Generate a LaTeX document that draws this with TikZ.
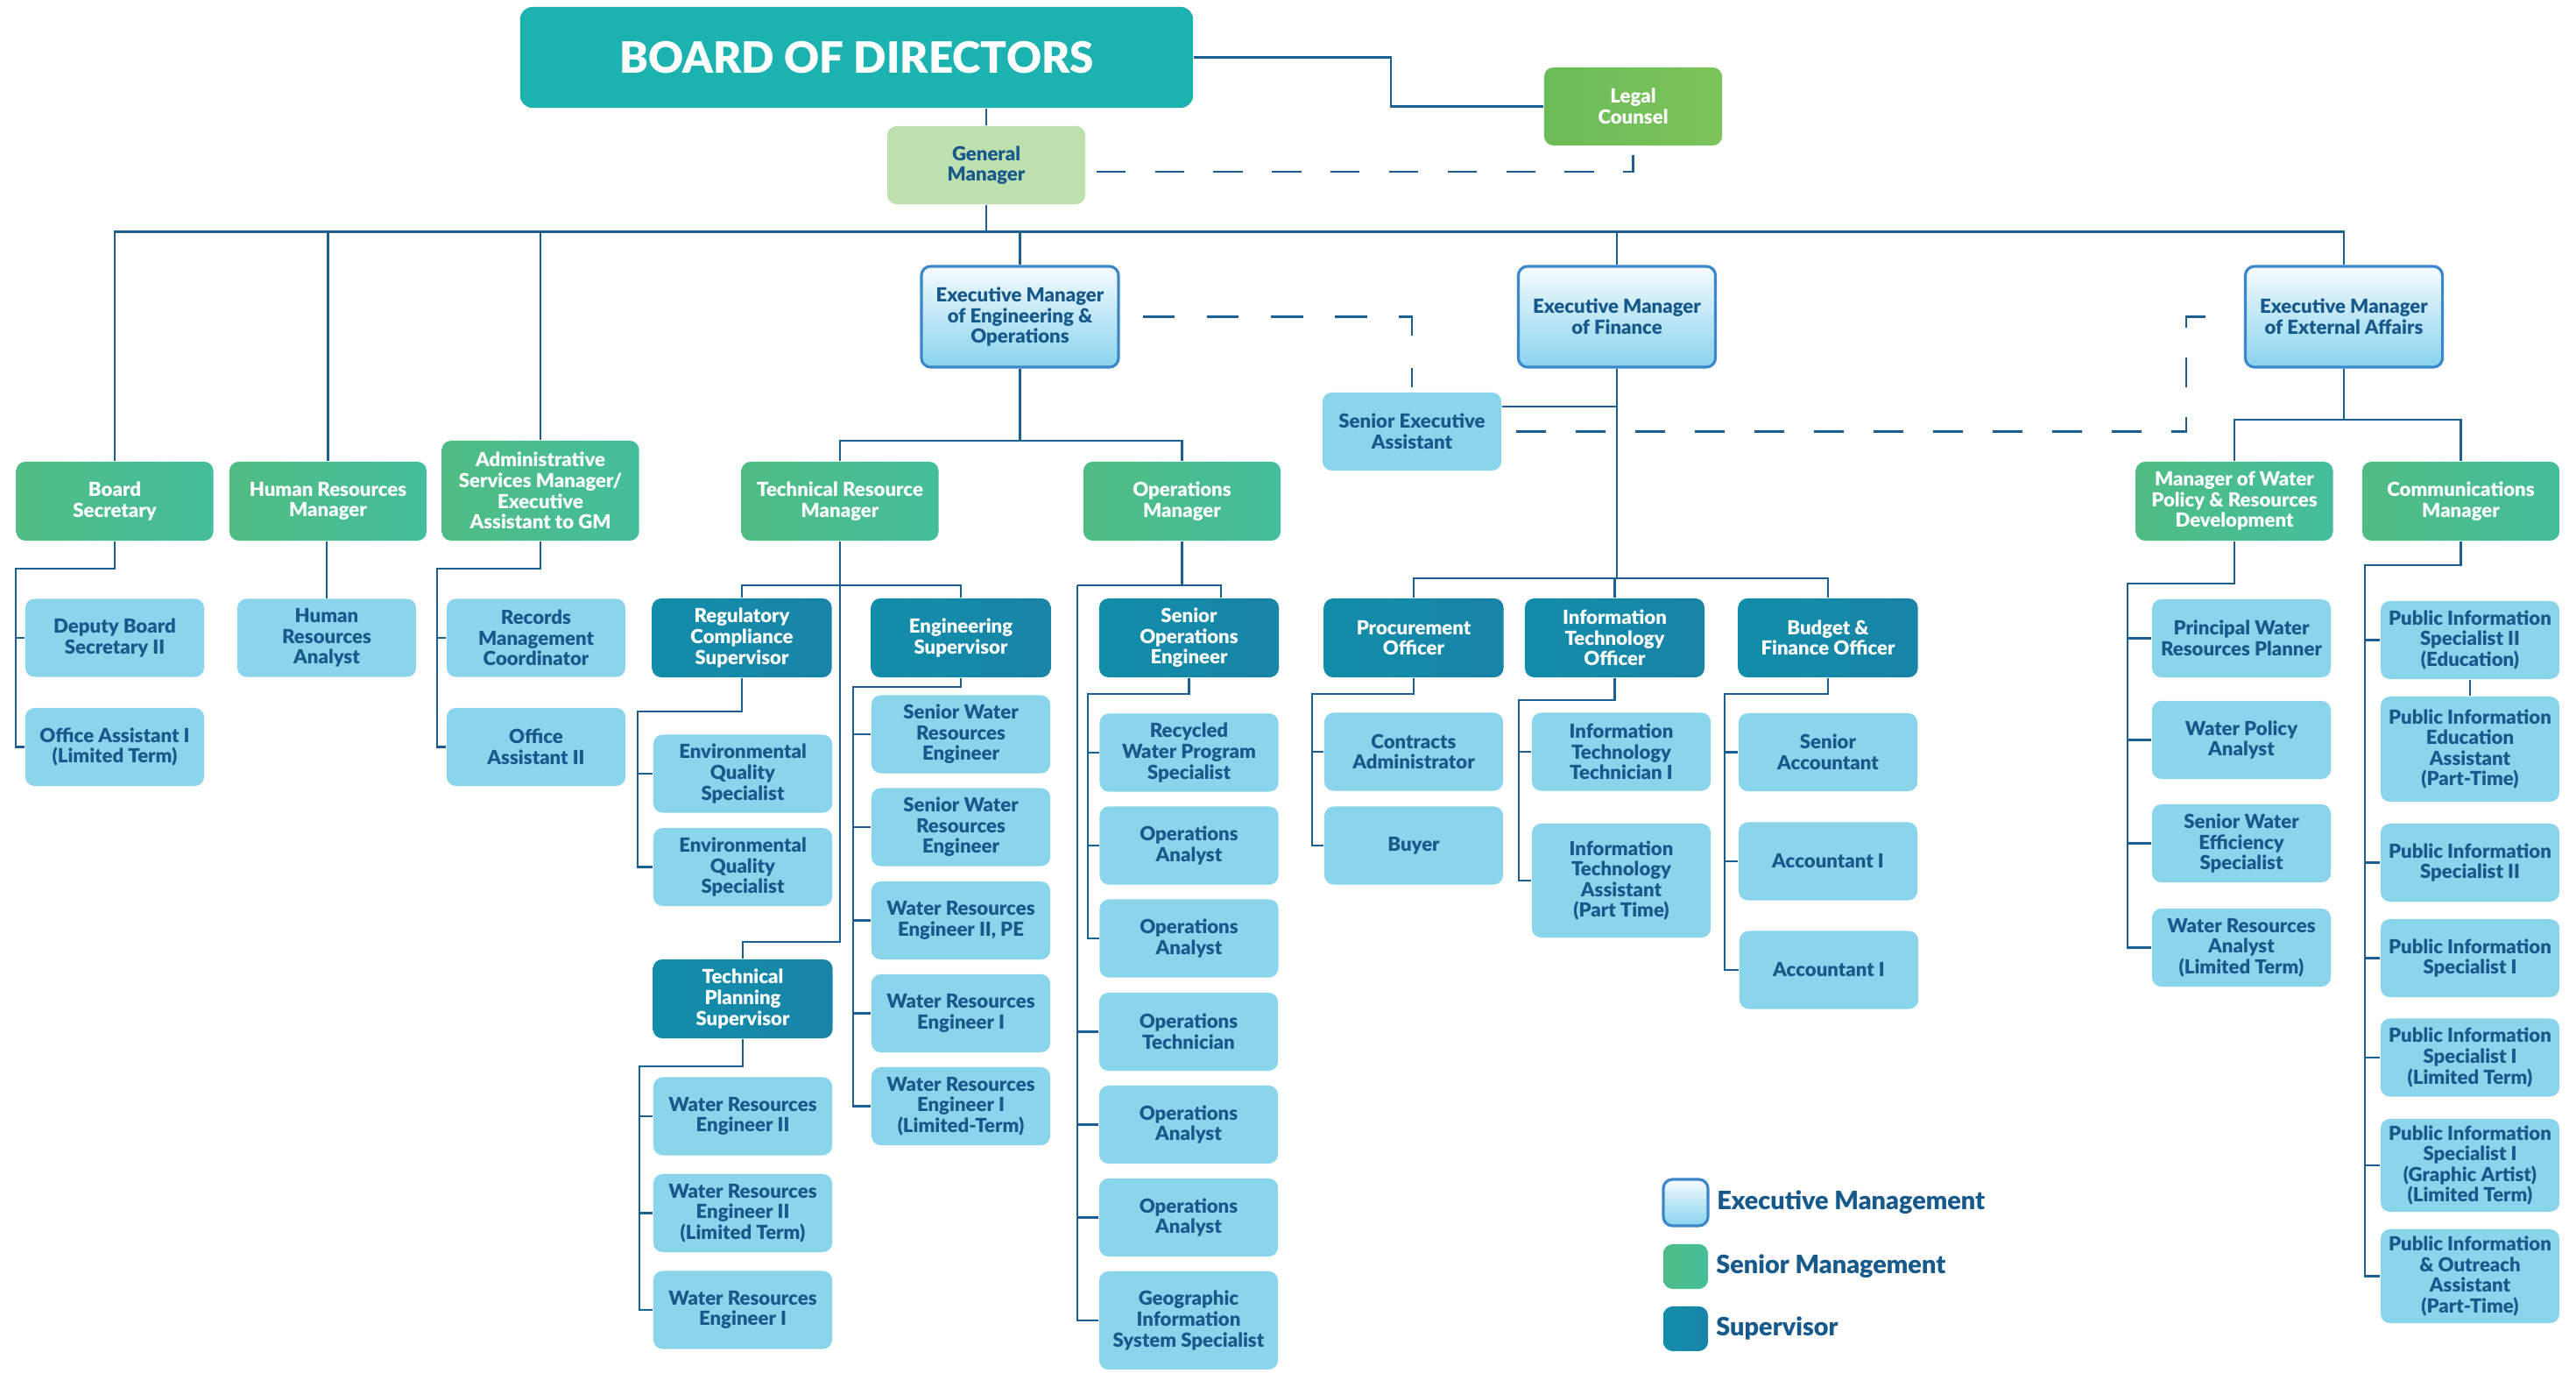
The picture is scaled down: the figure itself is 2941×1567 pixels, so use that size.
\documentclass[tikz,border=0pt]{standalone}
\usepackage{fontspec}
\setmainfont{Lato}[BoldFont={Lato Black}]
\usepackage{xcolor}
\usepackage{tikz}
\usetikzlibrary{positioning}

\definecolor{linkblue}{HTML}{1C5F8F}
\definecolor{txtblue}{HTML}{17598A}
\definecolor{staffblue}{HTML}{8AD5EC}
\definecolor{supL}{HTML}{128DA9}
\definecolor{supR}{HTML}{1984A8}
\definecolor{senL}{HTML}{50BC84}
\definecolor{senR}{HTML}{44BE9B}
\definecolor{legalL}{HTML}{6BBC58}
\definecolor{legalR}{HTML}{7CC35A}
\definecolor{gmgreen}{HTML}{BEDFAE}
\definecolor{boardteal}{HTML}{1BB2B0}
\definecolor{execT}{HTML}{F5FBFD}
\definecolor{execB}{HTML}{88D3EE}
\definecolor{execline}{HTML}{3C87C9}

\tikzset{
    orgbox/.style={rounded corners=3pt, align=center, inner sep=0pt, font=\fontsize{6.3}{6.7}\selectfont\bfseries},
    staff/.style={orgbox, fill=staffblue, text=txtblue, minimum width=2.04cm, minimum height=0.89cm},
    supbox/.style={orgbox, left color=supL, right color=supR, text=white, minimum width=2.05cm, minimum height=0.90cm},
    senior/.style={orgbox, left color=senL, right color=senR, text=white, minimum width=2.25cm, minimum height=0.90cm},
    execbox/.style={orgbox, top color=execT, bottom color=execB, draw=execline, line width=0.9pt, text=txtblue, minimum width=2.25cm, minimum height=1.15cm},
    legendtext/.style={anchor=west, inner sep=0pt, text=txtblue, font=\fontsize{8.2}{10}\selectfont\bfseries},
    link/.style={draw=linkblue, line width=0.8pt},
    dashlink/.style={link, dash pattern=on 9.5pt off 9.5pt},
}

\begin{document}
\begin{tikzpicture}[x=0.01cm, y=-0.01cm]
        \useasboundingbox (0,0) rectangle (2941,1567);

        \node (board) at (978,65.5) [orgbox, fill=boardteal, text=white, rounded corners=4pt, minimum width=7.68cm, minimum height=1.15cm, font=\fontsize{14}{16}\selectfont\bfseries] {BOARD OF DIRECTORS};
        \node (legal) at (1864.5,121.5) [orgbox, left color=legalL, right color=legalR, text=white, minimum width=2.03cm, minimum height=0.89cm] {Legal\\Counsel};
        \node (gm) at (1126,188.5) [orgbox, fill=gmgreen, text=txtblue, minimum width=2.26cm, minimum height=0.89cm] {General\\Manager};

        \node (emeo) at (1164.5,361.5) [execbox] {Executive Manager\\of Engineering \&\\Operations};
        \node (emf) at (1846,361.5) [execbox] {Executive Manager\\of Finance};
        \node (eme) at (2676,361.5) [execbox] {Executive Manager\\of External Affairs};
        \node (sea) at (1612,492.5) [staff] {Senior Executive\\Assistant};

        \node (bs) at (131,572) [senior] {Board\\Secretary};
        \node (hrm) at (374.5,572) [senior] {Human Resources\\Manager};
        \node (asm) at (617,560) [senior, minimum height=1.14cm] {Administrative\\Services Manager/\\Executive\\Assistant to GM};
        \node (trm) at (959,572) [senior] {Technical Resource\\Manager};
        \node (opm) at (1349.5,572) [senior] {Operations\\Manager};
        \node (mwp) at (2551,572) [senior] {Manager of Water\\Policy \& Resources\\Development};
        \node (com) at (2809.5,572) [senior] {Communications\\Manager};

        \node (dbs) at (131,728) [staff] {Deputy Board\\Secretary II};
        \node (oa1) at (131,852.5) [staff] {Office Assistant I\\(Limited Term)};
        \node (hra) at (373,728) [staff] {Human\\Resources\\Analyst};
        \node (rmc) at (612,728) [staff] {Records\\Management\\Coordinator};
        \node (oa2) at (612,852.5) [staff] {Office\\Assistant II};

        \node (rcs) at (847,728) [supbox] {Regulatory\\Compliance\\Supervisor};
        \node (eqs1) at (848,883) [staff] {Environmental\\Quality\\Specialist};
        \node (eqs2) at (848,989.5) [staff] {Environmental\\Quality\\Specialist};
        \node (tps) at (848,1140) [supbox] {Technical\\Planning\\Supervisor};
        \node (wre2) at (848,1274) [staff] {Water Resources\\Engineer II};
        \node (wre2lt) at (848,1384.5) [staff] {Water Resources\\Engineer II\\(Limited Term)};
        \node (wre1) at (848,1495) [staff] {Water Resources\\Engineer I};

        \node (es) at (1097,728) [supbox] {Engineering\\Supervisor};
        \node (swre1) at (1097,838) [staff] {Senior Water\\Resources\\Engineer};
        \node (swre2) at (1097,944) [staff] {Senior Water\\Resources\\Engineer};
        \node (wrepe) at (1097,1050.5) [staff] {Water Resources\\Engineer II, PE};
        \node (wre1b) at (1097,1156.5) [staff] {Water Resources\\Engineer I};
        \node (wre1lt) at (1097,1262.5) [staff] {Water Resources\\Engineer I\\(Limited-Term)};

        \node (soe) at (1357.5,728) [supbox] {Senior\\Operations\\Engineer};
        \node (rwps) at (1357.5,859) [staff] {Recycled\\Water Program\\Specialist};
        \node (oaa) at (1357.5,965) [staff] {Operations\\Analyst};
        \node (oab) at (1357.5,1071) [staff] {Operations\\Analyst};
        \node (ot) at (1357,1177.5) [staff] {Operations\\Technician};
        \node (oac) at (1357,1283.5) [staff] {Operations\\Analyst};
        \node (oad) at (1357,1389.5) [staff] {Operations\\Analyst};
        \node (gis) at (1357,1507) [staff, minimum height=1.12cm] {Geographic\\Information\\System Specialist};

        \node (po) at (1614,728) [supbox] {Procurement\\Officer};
        \node (ca) at (1614,858) [staff] {Contracts\\Administrator};
        \node (buyer) at (1614,965) [staff] {Buyer};
        \node (ito) at (1843.5,728) [supbox] {Information\\Technology\\Officer};
        \node (itt) at (1851,858) [staff] {Information\\Technology\\Technician I};
        \node (ita) at (1851,1005) [staff, minimum height=1.30cm] {Information\\Technology\\Assistant\\(Part Time)};
        \node (bfo) at (2087,728) [supbox] {Budget \&\\Finance Officer};
        \node (sa) at (2087,858.5) [staff] {Senior\\Accountant};
        \node (ai1) at (2087,983) [staff] {Accountant I};
        \node (ai2) at (2088,1107) [staff] {Accountant I};

        \node (pwrp) at (2559,728.5) [staff] {Principal Water\\Resources Planner};
        \node (wpa) at (2559,844.5) [staff] {Water Policy\\Analyst};
        \node (swes) at (2559,962.5) [staff] {Senior Water\\Efficiency\\Specialist};
        \node (wralt) at (2559,1081.5) [staff] {Water Resources\\Analyst\\(Limited Term)};

        \node (pis2e) at (2820,730.5) [staff] {Public Information\\Specialist II\\(Education)};
        \node (piea) at (2820,855) [staff, minimum height=1.20cm] {Public Information\\Education\\Assistant\\(Part-Time)};
        \node (pis2) at (2820,984.5) [staff] {Public Information\\Specialist II};
        \node (pis1) at (2820,1093.5) [staff] {Public Information\\Specialist I};
        \node (pis1lt) at (2820,1207) [staff] {Public Information\\Specialist I\\(Limited Term)};
        \node (pis1ga) at (2820,1330) [staff, minimum height=1.06cm] {Public Information\\Specialist I\\(Graphic Artist)\\(Limited Term)};
        \node (pioa) at (2820,1456.5) [staff, minimum height=1.07cm] {Public Information\\\& Outreach\\Assistant\\(Part-Time)};

        \node (lgexec) at (1924.5,1372.5) [execbox, minimum width=0.51cm, minimum height=0.53cm] {};
        \node (lgsen) at (1924.5,1445.5) [senior, minimum width=0.51cm, minimum height=0.51cm] {};
        \node (lgsup) at (1924.5,1516.5) [supbox, minimum width=0.51cm, minimum height=0.51cm] {};
        \node (lgexect) [right=0.08cm of lgexec, legendtext] {Executive Management};
        \node (lgsent) [right=0.08cm of lgsen, legendtext] {Senior Management};
        \node (lgsupt) [right=0.08cm of lgsup, legendtext] {Supervisor};

        \coordinate (lcbend) at (1588,100);
        \coordinate (bus) at (0,264.5);
        \coordinate (extdash) at (2496,430);
        \coordinate (eobus) at (0,503);
        \coordinate (exbus) at (0,479);
        \coordinate (finbus) at (0,660);
        \coordinate (trmbus) at (0,668);
        \coordinate (tpsbend) at (848,1075);
        \coordinate (opstr) at (1230,668);
        \coordinate (soedrop) at (1394,668);

        \draw[link] (board.east) -| (lcbend) |- (legal.west);
        \draw[link] (gm.north) -- (gm.north |- board.south);
        \draw[link] (gm.south) -- (gm.south |- bus);
        \draw[link] (bs.north) -- (bs.north |- bus) -- (eme.north |- bus) -- (eme.north);
        \foreach \n in {hrm,asm,emeo,emf}
            \draw[link] (\n.north) -- (\n.north |- bus);

        \draw[dashlink] ([xshift=0.12cm, yshift=-0.075cm]gm.east) -| ([yshift=-0.1cm]legal.south);
        \draw[dashlink, dash pattern=on 10.4pt off 10.4pt] ([xshift=0.26cm]emeo.east) -| ([yshift=0.05cm]sea.north);
        \draw[link] ([yshift=0.285cm]sea.east) -| (emf.south);
        \draw[dashlink, dash pattern=on 9.67pt off 9.67pt] ([xshift=0.16cm]sea.east) -| (extdash) |- ([xshift=-0.14cm]eme.west);

        \draw[link] (emeo.south) -- (emeo.south |- eobus);
        \draw[link] (trm.north) -- (trm.north |- eobus) -- (opm.north |- eobus) -- (opm.north);
        \draw[link] (eme.south) -- (eme.south |- exbus);
        \draw[link] (mwp.north) -- (mwp.north |- exbus) -- (com.north |- exbus) -- (com.north);
        \draw[link] (emf.south) -- (emf.south |- finbus);
        \draw[link] (po.north) -- (po.north |- finbus) -- (bfo.north |- finbus) -- (bfo.north);
        \draw[link] (ito.north) -- (ito.north |- finbus);

        \draw[link] (hra.north) -- (hra.north |- hrm.south);
        \draw[link] (trm.south) |- (tpsbend) -- (tps.north);
        \draw[link] (rcs.north) -- (rcs.north |- trmbus) -- (es.north |- trmbus) -- (es.north);
        \draw[link] (opm.south) -- (opm.south |- opstr);
        \draw[link] (opstr) -- (soedrop) -- (soedrop |- soe.north);
        \draw[link] (opstr) |- (gis.west);
        \foreach \n in {ot,oac,oad}
            \draw[link] (opstr |- \n.west) -- (\n.west);
        \draw[link] (pis2e.south) -- (piea.north);

        % parent, trunk corner, last child, other children
        \foreach \p/\x/\y/\l/\kids in {bs/18/649/oa1/{dbs}, asm/499/649/oa2/{rmc}, rcs/728/812/eqs2/{eqs1},
                tps/730/1217/wre1/{wre2,wre2lt}, es/974/784/wre1lt/{swre1,swre2,wrepe,wre1b},
                soe/1242/792/oab/{rwps,oaa}, po/1498/792/buyer/{ca}, ito/1734/799/ita/{itt},
                bfo/1969/792/ai2/{sa,ai1}, mwp/2429/666/wralt/{pwrp,wpa,swes},
                com/2700/645/pioa/{pis2e,pis2,pis1,pis1lt,pis1ga}}{
            \coordinate (tr) at (\x,\y);
            \draw[link] (\p.south) |- (tr) |- (\l.west);
            \foreach \k in \kids
                \draw[link] (tr |- \k.west) -- (\k.west);
        }
\end{tikzpicture}
\end{document}
